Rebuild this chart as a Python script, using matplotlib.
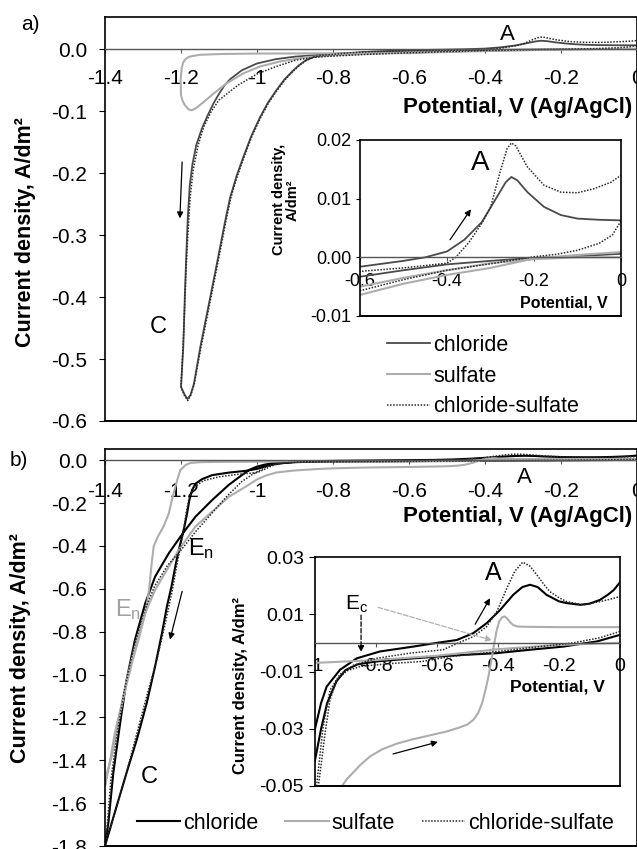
import matplotlib.pyplot as plt

plt.rcParams['font.family'] = ['Liberation Sans', 'DejaVu Sans']
plt.rcParams['axes.unicode_minus'] = False
plt.rcParams['mathtext.default'] = 'regular'

# ---- panel a) cyclic voltammograms (potential V, current density A/dm2) ----
# chloride: cathodic sweep 0 -> -1.2 V, then anodic sweep back to 0
a_cl_E = [0.0, -0.1, -0.2, -0.3, -0.4, -0.5, -0.6, -0.7, -0.8, -0.9, -0.95, -1.0, -1.04, -1.07, -1.085,
          -1.1, -1.115, -1.13, -1.145, -1.16, -1.17, -1.177, -1.182, -1.186, -1.19, -1.194, -1.2,
          -1.19, -1.183, -1.175, -1.166, -1.158, -1.149, -1.136, -1.123, -1.11, -1.097, -1.084, -1.071,
          -1.054, -1.036, -1.015, -0.993, -0.972, -0.95, -0.928, -0.906, -0.89, -0.872, -0.85, -0.83,
          -0.8, -0.75, -0.7, -0.6, -0.5, -0.45, -0.4, -0.36, -0.32, -0.29, -0.265, -0.252,
          -0.238, -0.215, -0.177, -0.138, -0.1, -0.05, 0.0]
a_cl_j = [0.0006, 0.0002, -0.0001, -0.0006, -0.0012, -0.0022, -0.0033, -0.005, -0.0075, -0.012, -0.016,
          -0.023, -0.034, -0.048, -0.058, -0.072, -0.088, -0.107, -0.128, -0.155, -0.186, -0.22,
          -0.27, -0.33, -0.4, -0.48, -0.545,
          -0.558, -0.5645, -0.558, -0.54, -0.512, -0.48, -0.44, -0.4, -0.36, -0.319, -0.278, -0.24,
          -0.205, -0.174, -0.14, -0.111, -0.087, -0.067, -0.049, -0.035, -0.026, -0.018, -0.0125,
          -0.0095, -0.0075, -0.006, -0.004, -0.0016, -0.0006, 0.0, 0.001, 0.003, 0.006, 0.0097,
          0.0128, 0.0137, 0.0131, 0.0111, 0.0086, 0.0072, 0.0066, 0.0064, 0.0063]

a_su_E = [0.0, -0.1, -0.2, -0.3, -0.4, -0.5, -0.6, -0.7, -0.8, -0.9, -1.0, -1.1, -1.15, -1.17, -1.18,
          -1.188, -1.194, -1.198, -1.201, -1.2,
          -1.196, -1.19, -1.18, -1.171, -1.158, -1.14, -1.114, -1.08, -1.036, -0.993, -0.941, -0.872,
          -0.8, -0.7, -0.6, -0.5, -0.4, -0.3, -0.2, -0.1, 0.0]
a_su_j = [0.0009, 0.0004, -0.0002, -0.0018, -0.003, -0.0045, -0.0064, -0.0065, -0.0066, -0.0068, -0.007,
          -0.0078, -0.009, -0.011, -0.0125, -0.016, -0.021, -0.03, -0.05, -0.074,
          -0.083, -0.09, -0.097, -0.0985, -0.094, -0.085, -0.0715, -0.055, -0.039, -0.028, -0.02,
          -0.013, -0.01, -0.007, -0.005, -0.0035, -0.0022, -0.001, -0.0003, 0.0, 0.0]

a_cs_E = [0.0, -0.02, -0.05, -0.1, -0.15, -0.2, -0.3, -0.4, -0.5, -0.6, -0.7, -0.8, -0.85, -0.9, -0.95,
          -1.0, -1.05, -1.1, -1.12, -1.14, -1.155, -1.168, -1.176, -1.182, -1.187, -1.193, -1.2,
          -1.19, -1.182, -1.174, -1.165, -1.157, -1.147, -1.134, -1.121, -1.108, -1.095, -1.082,
          -1.069, -1.052, -1.034, -1.013, -0.991, -0.97, -0.948, -0.926, -0.904, -0.888, -0.87, -0.85,
          -0.83, -0.75, -0.7, -0.6, -0.5, -0.4, -0.38, -0.35, -0.32, -0.3, -0.277, -0.262,
          -0.252, -0.242, -0.215, -0.177, -0.138, -0.1, -0.062, -0.023, 0.0]
a_cs_j = [0.0062, 0.0038, 0.0024, 0.0012, 0.0005, 0.0001, -0.0011, -0.0022, -0.0038, -0.0057, -0.008,
          -0.011, -0.013, -0.018, -0.028, -0.04, -0.058, -0.082, -0.1, -0.125, -0.155, -0.195, -0.24,
          -0.3, -0.36, -0.46, -0.545,
          -0.56, -0.567, -0.558, -0.54, -0.512, -0.48, -0.44, -0.4, -0.36, -0.319, -0.278, -0.24,
          -0.205, -0.174, -0.14, -0.111, -0.087, -0.067, -0.049, -0.035, -0.026, -0.018, -0.0125,
          -0.01, -0.0055, -0.004, -0.0024, -0.0018, -0.001, 0.0, 0.0025, 0.0058, 0.0085,
          0.0148, 0.0185, 0.0195, 0.019, 0.0154, 0.0123, 0.0111, 0.011, 0.0117, 0.0128, 0.014]

# ---- panel b) ----
b_cl_E = [0.0, -0.076, -0.186, -0.295, -0.405, -0.514, -0.6, -0.7, -0.8, -0.86, -0.9, -0.93, -0.96,
          -0.98, -1.0, -1.03, -1.074, -1.118, -1.144, -1.162, -1.171, -1.178, -1.184, -1.19, -1.197,
          -1.206, -1.215, -1.225, -1.237, -1.25, -1.268, -1.29, -1.316, -1.343, -1.369, -1.387, -1.4,
          -1.391, -1.378, -1.36, -1.343, -1.321, -1.294, -1.268, -1.232, -1.195, -1.162, -1.118,
          -1.074, -1.04, -1.02, -1.0, -0.98, -0.962, -0.918, -0.863, -0.787, -0.678, -0.601, -0.535,
          -0.481, -0.437, -0.393, -0.35, -0.32, -0.295, -0.27, -0.241, -0.2, -0.175, -0.13, -0.1,
          -0.066, -0.04, -0.02, 0.0]
b_cl_j = [0.0028, 0.0005, -0.0013, -0.0024, -0.0036, -0.0042, -0.0048, -0.0056, -0.0065, -0.0075,
          -0.0095, -0.0135, -0.021, -0.03, -0.041, -0.05, -0.058, -0.07, -0.088, -0.11, -0.14, -0.186,
          -0.248, -0.302, -0.357, -0.419, -0.496, -0.589, -0.682, -0.806, -0.961, -1.132, -1.302,
          -1.457, -1.612, -1.721, -1.8,
          -1.69, -1.457, -1.225, -1.023, -0.837, -0.667, -0.543, -0.434, -0.341, -0.264, -0.186,
          -0.115, -0.07, -0.045, -0.03, -0.021, -0.0153, -0.0094, -0.0054, -0.003, -0.0013, 0.0,
          0.001, 0.0034, 0.0069, 0.0115, 0.0168, 0.0195, 0.0203, 0.0195, 0.0168, 0.0145, 0.0139,
          0.0133, 0.0137, 0.015, 0.0168, 0.0185, 0.0212]

b_su_E = [0.0, -0.2, -0.4, -0.6, -0.8, -1.0, -1.1, -1.15, -1.175, -1.188, -1.202, -1.21, -1.222, -1.232,
          -1.246, -1.261, -1.272, -1.278, -1.284, -1.292, -1.307, -1.329, -1.351, -1.374, -1.389, -1.4,
          -1.395, -1.382, -1.365, -1.343, -1.316, -1.294, -1.268, -1.237, -1.206, -1.162, -1.118,
          -1.074, -1.03, -1.0, -0.977, -0.95, -0.913, -0.895, -0.874, -0.85, -0.82, -0.78, -0.732,
          -0.68, -0.623, -0.57, -0.53, -0.5, -0.48, -0.465, -0.452, -0.44, -0.43, -0.42, -0.412,
          -0.404, -0.396, -0.386, -0.378, -0.37, -0.36, -0.35, -0.335, -0.3, -0.2, 0.0]
b_su_j = [0.0, -0.0007, -0.0022, -0.0045, -0.006, -0.007, -0.008, -0.0095, -0.013, -0.023, -0.047,
          -0.093, -0.171, -0.248, -0.31, -0.357, -0.403, -0.496, -0.605, -0.698, -0.806, -0.946,
          -1.101, -1.271, -1.426, -1.52,
          -1.46, -1.38, -1.225, -1.023, -0.837, -0.713, -0.605, -0.512, -0.419, -0.31, -0.24, -0.171,
          -0.124, -0.09, -0.072, -0.058, -0.0502, -0.0475, -0.0452, -0.0425, -0.0397, -0.0372,
          -0.0352, -0.0337, -0.0323, -0.031, -0.0297, -0.0285, -0.0268, -0.0245, -0.021, -0.016,
          -0.011, -0.005, 0.0, 0.0045, 0.0075, 0.009, 0.0092, 0.0085, 0.0072, 0.0062, 0.0057,
          0.0056, 0.0055, 0.0055]

b_cs_E = [0.0, -0.066, -0.153, -0.262, -0.426, -0.557, -0.65, -0.75, -0.85, -0.896, -0.929, -0.951,
          -0.967, -0.978, -0.989, -1.0, -1.05, -1.1, -1.14, -1.165, -1.178, -1.186, -1.192, -1.2, -1.21,
          -1.222, -1.24, -1.262, -1.29, -1.32, -1.35, -1.38, -1.4,
          -1.395, -1.385, -1.37, -1.35, -1.325, -1.3, -1.27, -1.235, -1.2, -1.16, -1.12, -1.08, -1.04,
          -1.015, -0.995, -0.973, -0.951, -0.918, -0.874, -0.798, -0.689, -0.58, -0.525, -0.481,
          -0.437, -0.404, -0.371, -0.345, -0.319, -0.295, -0.273, -0.25, -0.23, -0.2, -0.175, -0.12,
          -0.066, -0.03, 0.0]
b_cs_j = [0.004, 0.0018, 0.0, -0.0013, -0.0033, -0.0048, -0.0065, -0.0072, -0.0082, -0.0098, -0.013,
          -0.02, -0.0315, -0.041, -0.05, -0.058, -0.066, -0.078, -0.095, -0.125, -0.17, -0.24, -0.31,
          -0.39, -0.48, -0.6, -0.75, -0.92, -1.1, -1.3, -1.5, -1.68, -1.8,
          -1.72, -1.5, -1.3, -1.08, -0.88, -0.72, -0.59, -0.49, -0.42, -0.33, -0.25, -0.17, -0.1,
          -0.07, -0.05, -0.029, -0.0166, -0.011, -0.0078, -0.0054, -0.0036, -0.0024, 0.0002, 0.0022,
          0.0057, 0.0109, 0.0191, 0.025, 0.0282, 0.0268, 0.0238, 0.0205, 0.0179, 0.0158, 0.0144,
          0.0133, 0.0144, 0.0153, 0.0162]

labels = ['chloride', 'sulfate', 'chloride-sulfate']

main_xt = [-1.4, -1.2, -1.0, -0.8, -0.6, -0.4, -0.2, 0.0]
main_xl = ['-1.4', '-1.2', '-1', '-0.8', '-0.6', '-0.4', '-0.2', '0']
a_yt = [0.0, -0.1, -0.2, -0.3, -0.4, -0.5, -0.6]
a_yl = ['0.0', '-0.1', '-0.2', '-0.3', '-0.4', '-0.5', '-0.6']
b_yt = [0.0, -0.2, -0.4, -0.6, -0.8, -1.0, -1.2, -1.4, -1.6, -1.8]
b_yl = ['0.0', '-0.2', '-0.4', '-0.6', '-0.8', '-1.0', '-1.2', '-1.4', '-1.6', '-1.8']
ia_xt = [-0.6, -0.4, -0.2, 0.0]
ia_xl = ['-0.6', '-0.4', '-0.2', '0']
ia_yt = [0.02, 0.01, 0.0, -0.01]
ia_yl = ['0.02', '0.01', '0.00', '-0.01']
ib_xt = [-1.0, -0.8, -0.6, -0.4, -0.2, 0.0]
ib_xl = ['-1', '-0.8', '-0.6', '-0.4', '-0.2', '0']
ib_yt = [0.03, 0.01, -0.01, -0.03, -0.05]
ib_yl = ['0.03', '0.01', '-0.01', '-0.03', '-0.05']

W, H = 637, 849
fig = plt.figure(figsize=(W / 100, H / 100), dpi=100)


def px_axes(left, top, right, bottom):
    return fig.add_axes([left / W, 1 - bottom / H, (right - left) / W, (bottom - top) / H])


def setup(ax, xlim, ylim, xt, xl, yt, yl, fs, xpad, ypad, ylen):
    ax.set_xlim(xlim)
    ax.set_ylim(ylim)
    ax.spines['bottom'].set_position(('data', 0))
    ax.spines['bottom'].set_color('#555555')
    ax.spines['bottom'].set_linewidth(1.0)
    for s in ['top', 'left', 'right']:
        ax.spines[s].set_linewidth(1.2)
    ax.axhline(ylim[0], color='k', lw=1.4, clip_on=False, zorder=5)
    ax.set_xticks(xt)
    ax.set_xticklabels(xl)
    ax.set_yticks(yt)
    ax.set_yticklabels(yl)
    ax.tick_params(axis='x', direction='out', length=3, pad=xpad, labelsize=fs, color='#555555')
    ax.tick_params(axis='y', direction='out', length=ylen, pad=ypad, labelsize=fs)


def draw(ax, cl, su, cs, dark, lw_cl):
    h1, = ax.plot(cl[0], cl[1], color=dark, lw=lw_cl)
    h2, = ax.plot(su[0], su[1], color='#adadad', lw=1.5)
    h3, = ax.plot(cs[0], cs[1], color='#2a2a2a', lw=1.1, ls=(0, (1, 1)))
    return [h1, h2, h3]


def arrow(ax, x0, y0, x1, y1, color='k', ls='-'):
    ax.annotate('', xy=(x1, y1), xytext=(x0, y0),
                arrowprops=dict(arrowstyle='-|>', color=color, lw=0.9, ls=ls,
                                mutation_scale=9, shrinkA=0, shrinkB=0))


# ---------------- panel a ----------------
ax_a = px_axes(105, 17, 637, 421)
setup(ax_a, (-1.4, 0.0), (-0.6, 0.052), main_xt, main_xl, a_yt, a_yl, 15, 11, 9, 4)
ha = draw(ax_a, (a_cl_E, a_cl_j), (a_su_E, a_su_j), (a_cs_E, a_cs_j), '#4a4a4a', 1.3)
ax_a.text(0.9906, 0.775, 'Potential, V (Ag/AgCl)', transform=ax_a.transAxes,
          ha='right', va='center', fontsize=16, fontweight='bold')
ax_a.text(-0.1485, 0.468, 'Current density, A/dm²', transform=ax_a.transAxes, rotation=90,
          ha='center', va='center', fontsize=15.5, fontweight='bold')
ax_a.text(-0.34, 0.024, 'A', fontsize=16, ha='center', va='center')
ax_a.text(-1.26, -0.448, 'C', fontsize=17, ha='center', va='center')
arrow(ax_a, -1.197, -0.182, -1.203, -0.273)
ax_a.legend(ha, labels, loc='upper left', bbox_to_anchor=(387 / W, 1 - 335 / H),
            bbox_transform=fig.transFigure, frameon=False, fontsize=15.5, handlelength=2.0,
            handletextpad=0.15, labelspacing=0.45, borderpad=0, borderaxespad=0)
fig.text(30 / W, 1 - 24 / H, 'a)', fontsize=15, ha='center', va='center')

ia = px_axes(360, 140, 621, 316)
setup(ia, (-0.6, 0.0), (-0.01, 0.02), ia_xt, ia_xl, ia_yt, ia_yl, 13, 8, 3, 3)
draw(ia, (a_cl_E, a_cl_j), (a_su_E, a_su_j), (a_cs_E, a_cs_j), '#4a4a4a', 1.3)
ia.text(0.95, 0.075, 'Potential, V', transform=ia.transAxes, ha='right', va='center',
        fontsize=11.5, fontweight='bold')
ia.text(-0.285, 0.66, 'Current density,\nA/dm²', transform=ia.transAxes, rotation=90,
        ha='center', va='center', fontsize=10.5, fontweight='bold', linespacing=1.0)
ia.text(-0.324, 0.0161, 'A', fontsize=20, ha='center', va='center')
arrow(ia, -0.393, 0.003, -0.345, 0.0082)

# ---------------- panel b ----------------
ax_b = px_axes(105, 449, 637, 846)
setup(ax_b, (-1.4, 0.0), (-1.8, 0.052), main_xt, main_xl, b_yt, b_yl, 15, 13, 9, 4)
hb = draw(ax_b, (b_cl_E, b_cl_j), (b_su_E, b_su_j), (b_cs_E, b_cs_j), 'black', 1.5)
ax_b.text(0.9906, 0.829, 'Potential, V (Ag/AgCl)', transform=ax_b.transAxes,
          ha='right', va='center', fontsize=16, fontweight='bold')
ax_b.text(-0.158, 0.499, 'Current density, A/dm²', transform=ax_b.transAxes, rotation=90,
          ha='center', va='center', fontsize=15.5, fontweight='bold')
ax_b.text(-0.297, -0.079, 'A', fontsize=16, ha='center', va='center')
ax_b.text(-1.181, -0.442, 'E$_n$', fontsize=17, ha='left', va='baseline')
ax_b.text(-1.374, -0.729, 'E$_n$', fontsize=17, ha='left', va='baseline', color='#a0a0a0')
ax_b.text(-1.284, -1.479, 'C', fontsize=17, ha='center', va='center')
arrow(ax_b, -1.197, -0.612, -1.229, -0.837)
ax_b.legend(hb, labels, loc='upper left', bbox_to_anchor=(137 / W, 1 - 813 / H),
            bbox_transform=fig.transFigure, frameon=False, fontsize=15.5, ncol=3,
            handlelength=2.0, handletextpad=0.15, columnspacing=1.25, borderpad=0,
            borderaxespad=0)
fig.text(19 / W, 1 - 461 / H, 'b)', fontsize=15, ha='center', va='center')

ib = px_axes(315, 557, 620, 786)
setup(ib, (-1.0, 0.0), (-0.05, 0.03), ib_xt, ib_xl, ib_yt, ib_yl, 14, 8, 3.5, 4.5)
draw(ib, (b_cl_E, b_cl_j), (b_su_E, b_su_j), (b_cs_E, b_cs_j), 'black', 1.5)
ib.text(0.95, 0.432, 'Potential, V', transform=ib.transAxes, ha='right', va='center',
        fontsize=12.5, fontweight='bold')
ib.text(-0.245, 0.437, 'Current density, A/dm²', transform=ib.transAxes, rotation=90,
        ha='center', va='center', fontsize=12, fontweight='bold')
ib.text(-0.416, 0.0244, 'A', fontsize=18, ha='center', va='center')
ib.text(-0.902, 0.0115, 'E$_c$', fontsize=15, ha='left', va='baseline')
arrow(ib, -0.849, 0.0097, -0.849, -0.0032, ls='--')
arrow(ib, -0.793, 0.0124, -0.42, 0.0009, color='#b0b0b0', ls='--')
arrow(ib, -0.475, 0.0065, -0.426, 0.0156)
arrow(ib, -0.744, -0.0388, -0.597, -0.0346)

fig.savefig('out.png', dpi=100)
